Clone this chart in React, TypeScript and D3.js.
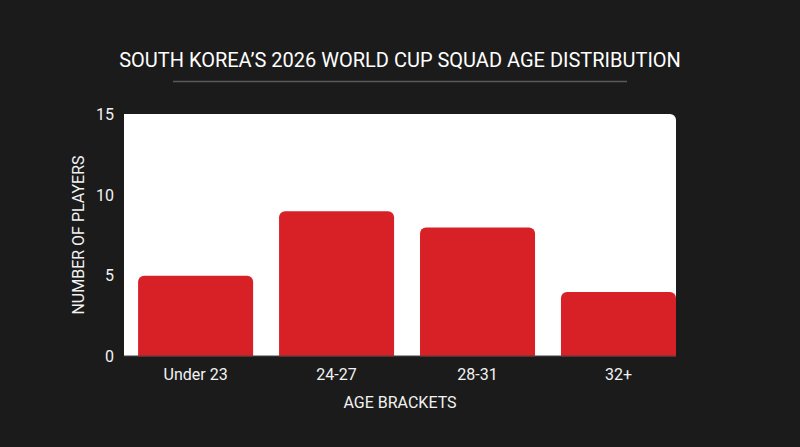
import * as d3 from "d3";
import { useEffect, useRef } from "react";

const categories = ["Under 23", "24-27", "28-31", "32+"];
const players = [5, 9, 8, 4];
const yTicks = [0, 5, 10, 15];

const width = 800,
    height = 447;

const plot = { left: 124, right: 676, top: 114, bottom: 356 };

export default function App() {
    const ref = useRef(null);

    useEffect(() => {
        const svg = d3.select(ref.current);
        svg.selectAll("*").remove();

        svg.append("rect")
            .attr("width", width)
            .attr("height", height)
            .attr("fill", "#1b1b1b");

        const x = d3.scaleBand()
            .domain(categories)
            .range([plot.left, plot.right])
            .paddingInner(0.184)
            .paddingOuter(0.05)
            .align(1);

        const y = d3.scaleLinear()
            .domain([0, 15])
            .range([plot.bottom + 0.5, plot.top + 0.5]);

        // plot background, only the top-right corner is rounded
        const r = 6;
        const bg = d3.path();
        bg.moveTo(plot.left, plot.top);
        bg.lineTo(plot.right - r, plot.top);
        bg.arcTo(plot.right, plot.top, plot.right, plot.top + r, r);
        bg.lineTo(plot.right, plot.bottom);
        bg.lineTo(plot.left, plot.bottom);
        bg.closePath();
        svg.append("path")
            .attr("d", bg.toString())
            .attr("fill", "#ffffff");

        const barPath = (x0: number, w: number, y0: number, y1: number, rr: number) => {
            const p = d3.path();
            p.moveTo(x0, y1);
            p.lineTo(x0, y0 + rr);
            p.arcTo(x0, y0, x0 + rr, y0, rr);
            p.lineTo(x0 + w - rr, y0);
            p.arcTo(x0 + w, y0, x0 + w, y0 + rr, rr);
            p.lineTo(x0 + w, y1);
            p.closePath();
            return p.toString();
        };

        svg.selectAll("path.bar")
            .data(players)
            .join("path")
            .attr("class", "bar")
            .attr("d", (d, i) => barPath(x(categories[i]) as number, x.bandwidth(), y(d), y(0), 6))
            .attr("fill", "#d82027");

        // baseline
        svg.append("line")
            .attr("x1", plot.left)
            .attr("x2", plot.right)
            .attr("y1", plot.bottom)
            .attr("y2", plot.bottom)
            .attr("stroke", "#444")
            .attr("stroke-width", 1);

        const font = "Roboto, 'Noto Sans', sans-serif";

        svg.selectAll("text.ytick")
            .data(yTicks)
            .join("text")
            .attr("class", "ytick")
            .attr("x", plot.left - 10)
            .attr("y", (d) => y(d))
            .attr("dy", "0.35em")
            .attr("text-anchor", "end")
            .attr("fill", "#f2f2f2")
            .style("font-family", font)
            .style("font-size", "16px")
            .text((d) => d);

        svg.selectAll("text.xtick")
            .data(categories)
            .join("text")
            .attr("class", "xtick")
            .attr("x", (d) => (x(d) as number) + x.bandwidth() / 2)
            .attr("y", 380)
            .attr("text-anchor", "middle")
            .attr("fill", "#f2f2f2")
            .style("font-family", font)
            .style("font-size", "16px")
            .text((d) => d);

        svg.append("text")
            .attr("x", 400)
            .attr("y", 408)
            .attr("text-anchor", "middle")
            .attr("fill", "#f2f2f2")
            .style("font-family", font)
            .style("font-size", "16px")
            .text("AGE BRACKETS");

        svg.append("text")
            .attr("transform", `translate(84, ${(plot.top + plot.bottom) / 2}) rotate(-90)`)
            .attr("text-anchor", "middle")
            .attr("fill", "#f2f2f2")
            .style("font-family", font)
            .style("font-size", "16px")
            .text("NUMBER OF PLAYERS");

        svg.append("text")
            .attr("x", 400)
            .attr("y", 67)
            .attr("text-anchor", "middle")
            .attr("fill", "#ffffff")
            .style("font-family", font)
            .style("font-size", "20px")
            .text("SOUTH KOREA\u2019S 2026 WORLD CUP SQUAD AGE DISTRIBUTION");

        svg.append("line")
            .attr("x1", 173)
            .attr("x2", 627)
            .attr("y1", 81.5)
            .attr("y2", 81.5)
            .attr("stroke", "#5a5a5a")
            .attr("stroke-width", 1.5);
    }, []);

    return (
        <div style={{ position: "fixed", left: 0, top: 0, width, height, background: "#1b1b1b" }}>
            <svg ref={ref} width={width} height={height} style={{ display: "block" }}></svg>
        </div>
    );
}
